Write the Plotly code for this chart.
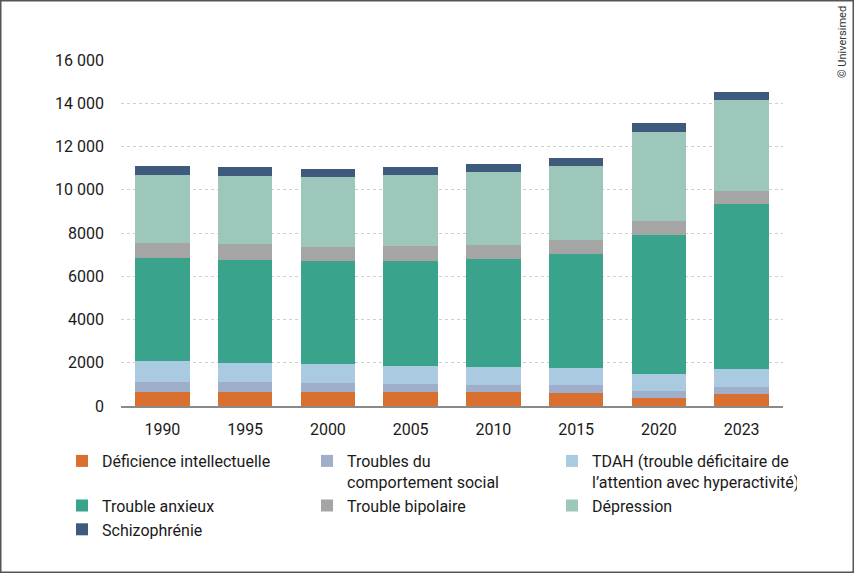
import plotly.graph_objects as go

# years on the x axis
years = ['1990', '1995', '2000', '2005', '2010', '2015', '2020', '2023']

# values (bottom to top)
deficience = [660, 660, 660, 660, 660, 615, 370, 570]
comportement = [460, 460, 400, 360, 320, 355, 325, 325]
tdah = [960, 880, 865, 830, 830, 800, 770, 820]
anxieux = [4780, 4750, 4760, 4870, 4970, 5270, 6430, 7620]
bipolaire = [700, 740, 680, 690, 680, 630, 660, 615]
depression = [3120, 3160, 3210, 3260, 3350, 3440, 4130, 4180]
schizo = [400, 420, 400, 370, 400, 370, 390, 390]

names = ['Déficience intellectuelle',
         'Troubles du<br>comportement social',
         'TDAH (trouble déficitaire de<br>l’attention avec hyperactivité)',
         'Trouble anxieux',
         'Trouble bipolaire',
         'Dépression',
         'Schizophrénie']
series = [deficience, comportement, tdah, anxieux, bipolaire, depression, schizo]
colors = ['#d97030', '#9eaecb', '#a9cae0', '#3aa38b', '#a5a5a5', '#9ec7bb', '#3e5a7d']

tick_vals = [0, 2000, 4000, 6000, 8000, 10000, 12000, 14000, 16000]
tick_text = ['0', '2000', '4000', '6000', '8000', '10 000', '12 000', '14 000', '16 000']

fig = go.Figure()
for name, vals, col in zip(names, series, colors):
    fig.add_trace(go.Bar(x=years, y=vals, name=name,
                         marker=dict(color=col, line_width=0)))

# plot area: x 121..783, y 60..406 px
L, R, T, B = 121, 71, 60, 167
W, H = 854, 573
pw, ph = W - L - R, H - T - B

fig.update_layout(
    width=W, height=H,
    margin=dict(l=L, r=R, t=T, b=B),
    barmode='stack', bargap=0.34,
    plot_bgcolor='white', paper_bgcolor='white',
    font=dict(family='Roboto, sans-serif', size=16, color='#1a1a1a'),
    legend=dict(orientation='h', x=(62 - L) / pw, xanchor='left',
                y=(406 - 444) / ph, yanchor='top',
                entrywidth=200, entrywidthmode='pixels',
                valign='top', traceorder='normal',
                font=dict(size=16, color='#1a1a1a')),
    xaxis=dict(showline=True, linecolor='#8a8a8a', linewidth=1.5,
               ticks='', ticklabelstandoff=8, tickfont=dict(size=16)),
    yaxis=dict(range=[0, 16000], tickvals=tick_vals, ticktext=tick_text,
               showgrid=True, gridcolor='#cfcfcf', griddash='3px,3px', gridwidth=1,
               zeroline=False, ticks='', ticklabelstandoff=16,
               tickfont=dict(size=16)),
)

# copyright note on the right edge
fig.add_annotation(text='© Universimed', textangle=-90, showarrow=False,
                   xref='paper', yref='paper', xanchor='center', yanchor='middle',
                   x=(843 - L) / pw, y=(406 - 42) / ph,
                   font=dict(size=11, color='#333333'))

# thin frame round the picture
fig.add_shape(type='rect', xref='paper', yref='paper',
              x0=(0.75 - L) / pw, x1=(W - 0.75 - L) / pw,
              y0=(406 - (H - 0.75)) / ph, y1=(406 - 0.75) / ph,
              line=dict(color='#555555', width=1.5))

fig.write_html('out.html', config={'displayModeBar': False},
               post_script="document.body.style.margin='0px';")
